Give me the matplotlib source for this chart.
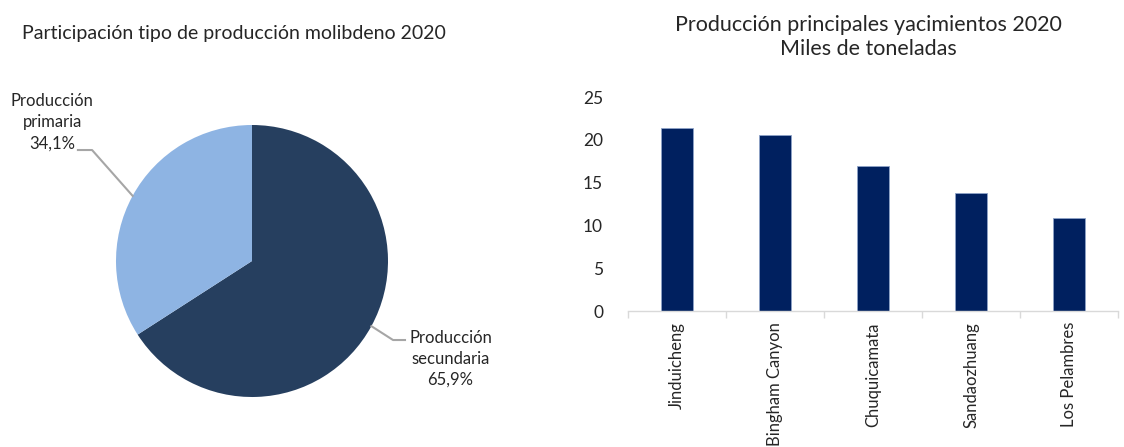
import numpy as np
import matplotlib
matplotlib.use("Agg")
import matplotlib.pyplot as plt

plt.rcParams["font.family"] = ["Lato", "DejaVu Sans"]
plt.rcParams["font.size"] = 12

# Participación por tipo de producción (%)
pie_labels = ["Producción\nsecundaria", "Producción\nprimaria"]
pie_values = [65.9, 34.1]
pie_colors = ["#263F5F", "#8EB4E3"]

# Producción principales yacimientos (miles de toneladas)
mines = ["Jinduicheng", "Bingham Canyon", "Chuquicamata", "Sandaozhuang", "Los Pelambres"]
production = [21.4, 20.6, 16.9, 13.8, 10.9]
bar_color = "#00205F"

W, H = 1124, 447
fig = plt.figure(figsize=(W / 100, H / 100), dpi=100)


def px_axes(left, top, right, bottom):
    return fig.add_axes([left / W, (H - bottom) / H, (right - left) / W, (bottom - top) / H])


# ---- Pie ----
ax = px_axes(116, 125, 388, 397)
wedges, _ = ax.pie(pie_values, colors=pie_colors, startangle=90, counterclock=False,
                   radius=1, wedgeprops=dict(linewidth=0))
ax.set_xlim(-1, 1)
ax.set_ylim(-1, 1)
ax.set_aspect("equal")

leader = "#A6A6A6"
label_pos = [
    # (elbow x, elbow y, end x, text x, text y)
    (1.037, -0.581, 1.125, 1.46, -0.72),
    (-1.176, 0.816, -1.28, -1.47, 1.022),
]
for w, lab, val, (ex, ey, endx, tx, ty) in zip(wedges, pie_labels, pie_values, label_pos):
    mid = np.deg2rad((w.theta1 + w.theta2) / 2)
    px, py = np.cos(mid), np.sin(mid)
    ax.plot([px, ex, endx], [py, ey, ey], color=leader, lw=1.5, clip_on=False)
    ax.text(tx, ty, f"{lab}\n{val:.1f}%".replace(".", ","), ha="center", va="center",
            multialignment="center", fontsize=12, color="#262626", linespacing=1.4)

fig.text(22 / W, 1 - 33 / H, "Participación tipo de producción molibdeno 2020",
         ha="left", va="center", fontsize=14, color="#262626")

# ---- Bars ----
bx = px_axes(628, 97, 1118, 311)
x = np.arange(len(mines))
bx.bar(x, production, width=0.32, color=bar_color, edgecolor="#8EA3C8", linewidth=0.6)
bx.set_xlim(-0.5, len(mines) - 0.5)
bx.set_ylim(0, 25)
bx.set_yticks(range(0, 26, 5))
bx.tick_params(axis="y", length=0, pad=18, labelsize=12.5, labelcolor="#262626")
bx.set_xticks(x)
bx.set_xticklabels(mines, rotation=90, fontsize=12, color="#262626")
bx.set_xticks(np.arange(-0.5, len(mines)), minor=True)
bx.tick_params(axis="x", which="major", length=0, pad=8)
bx.tick_params(axis="x", which="minor", length=5, color="#D9D9D9", width=1)
for s in ["top", "right", "left"]:
    bx.spines[s].set_visible(False)
bx.spines["bottom"].set_color("#D9D9D9")
bx.spines["bottom"].set_linewidth(1)

fig.text(868 / W, 1 - 37 / H, "Producción principales yacimientos 2020\nMiles de toneladas",
         ha="center", va="center", fontsize=15.5, color="#262626", linespacing=1.25)

fig.savefig("out.png", dpi=100)
